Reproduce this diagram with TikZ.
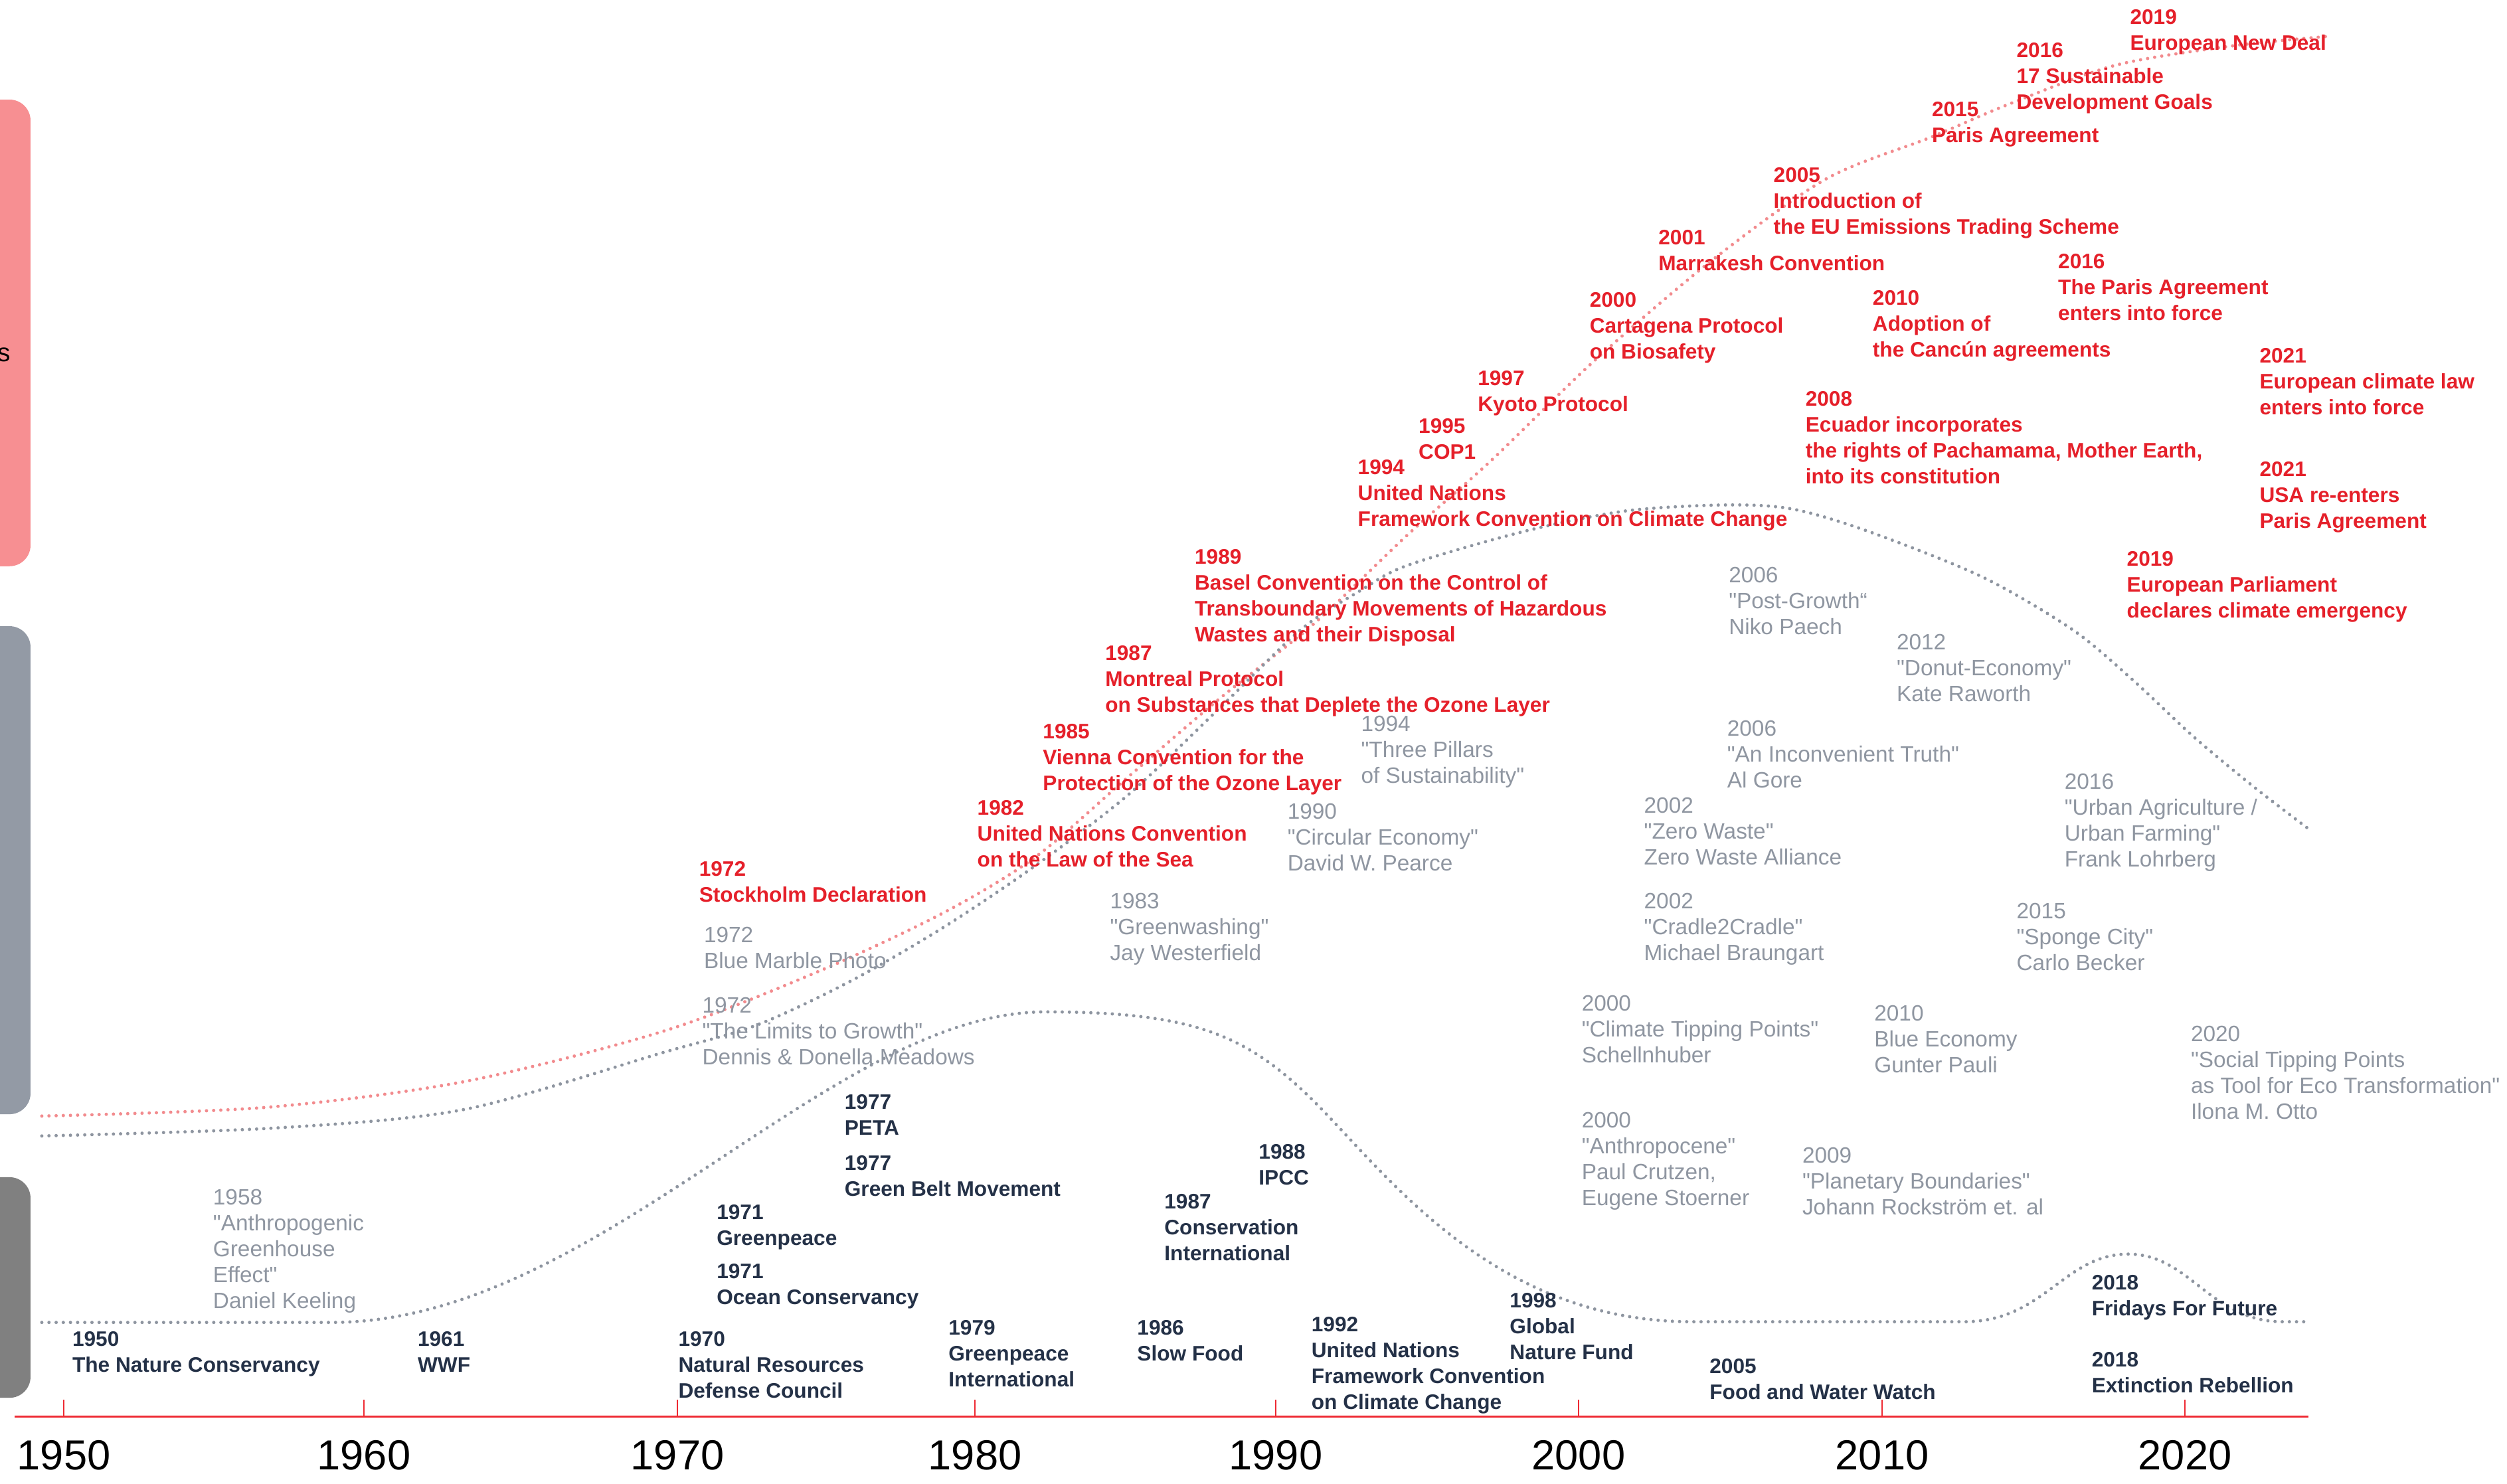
\documentclass[tikz,border=0pt]{standalone}
\usepackage{fontspec}
\setmainfont{Liberation Sans}[Ligatures=TeXOff]

\definecolor{polred}{HTML}{E5202A}
\definecolor{reddot}{HTML}{F28B8E}
\definecolor{ideagray}{HTML}{8F96A1}
\definecolor{graydot}{HTML}{8E95A0}
\definecolor{orgnavy}{HTML}{243147}
\definecolor{boxpink}{HTML}{F78F92}
\definecolor{boxslate}{HTML}{939AA5}
\definecolor{boxgray}{HTML}{808080}
\definecolor{axisred}{HTML}{EE2A33}

\tikzset{
  lbl/.style={anchor=north west, inner sep=0pt, align=left},
  policy/.style={lbl, text=polred, font=\fontsize{9}{11.1}\selectfont\bfseries},
  idea/.style={lbl, text=ideagray, font=\fontsize{9.5}{11.1}\selectfont},
  org/.style={lbl, text=orgnavy, font=\fontsize{9}{11.1}\selectfont\bfseries},
  yearlab/.style={anchor=base, inner sep=0pt, font=\fontsize{18}{20}\selectfont},
  dotline/.style={line width=1.42pt, line cap=round, dash pattern=on 0pt off 3.07pt},
}

\begin{document}
\begin{tikzpicture}[x=0.024075cm, y=-0.024075cm]
  \useasboundingbox (0,0) rectangle (1568,928);
  % side bands
  \fill[boxpink, rounded corners=9pt] (-40,62.3) rectangle (19.1,354.2);
  \fill[boxslate, rounded corners=9pt] (-40,391.7) rectangle (19.1,697);
  \fill[boxgray, rounded corners=9pt] (-40,736.4) rectangle (19.1,874.4);
  \node[anchor=base east, inner sep=0pt, font=\fontsize{11}{13}\selectfont] (band) at (6.85,226) {s};

  % trend curves
  \begin{scope}[x=0.01cm, y=-0.01cm]
    \draw[dotline, reddot] plot[smooth] coordinates {(63,1682) (400,1669) (700,1630) (1000,1554)
      (1231,1465) (1421,1376) (1561,1291) (1701,1170) (1840,1051) (1981,939) (2121,806)
      (2247,694) (2401,545) (2575,396) (2751,270) (2909,207) (3032,155) (3189,98) (3365,69) (3505,55)};
    \draw[dotline, graydot] plot[smooth] coordinates {(63,1712) (415,1700) (700,1672) (1000,1586)
      (1140,1545) (1281,1479) (1421,1398) (1561,1304) (1701,1197) (1842,1063) (1960,949)
      (2050,890) (2121,852) (2296,801) (2450,770) (2600,761) (2700,767) (2813,800) (2986,869)
      (3123,949) (3214,1025) (3305,1110) (3395,1185) (3477,1248)};
    \draw[dotline, graydot] (63,1993) -- (500,1993)
      .. controls (900,1993) and (1250,1525) .. (1575,1525)
      .. controls (1800,1525) and (1880,1560) .. (1982,1662)
      .. controls (2090,1770) and (2250,1992) .. (2550,1992) -- (2960,1992)
      .. controls (3080,1992) and (3110,1890) .. (3207,1890)
      .. controls (3300,1890) and (3330,1992) .. (3440,1992) -- (3477,1992);
  \end{scope}

  % time axis
  \draw[axisred, line width=0.7pt] (9.1,886.2) -- (1443.8,886.2);
  \foreach \yr/\xx in {1950/39.9, 1960/227.6, 1970/423.7, 1980/609.8, 1990/797.9,
                       2000/987.3, 2010/1177.2, 2020/1366.6} {
    \draw[axisred, line width=0.5pt] (\xx,875.6) -- (\xx,886.2);
    \node[yearlab] (y\yr) at (\xx,919.6) {\yr};
  }

  % organisations
  \node[org] (o1950) at (45,832.5) {1950\\The Nature Conservancy};
  \node[org] (o1961) at (261,832.5) {1961\\WWF};
  \node[org] (o1970) at (424,832.5) {1970\\Natural Resources\\Defense Council};
  \node[org] (o1979) at (593,825.5) {1979\\Greenpeace\\International};
  \node[org] (o1986) at (711,825.5) {1986\\Slow Food};
  \node[org] (o1992) at (820,823.5) {1992\\United Nations\\Framework Convention\\on Climate Change};
  \node[org] (o1998) at (944,808.5) {1998\\Global\\Nature Fund};
  \node[org] (o2005) at (1069,849.5) {2005\\Food and Water Watch};
  \node[org] (o2018x) at (1308,845.5) {2018\\Extinction Rebellion};
  \node[org] (o2018f) at (1308,797.5) {2018\\Fridays For Future};
  \node[org] (o1971g) at (448,753.5) {1971\\Greenpeace};
  \node[org] (o1971o) at (448,790.5) {1971\\Ocean Conservancy};
  \node[org] (o1977p) at (528,684.5) {1977\\PETA};
  \node[org] (o1977g) at (528,722.5) {1977\\Green Belt Movement};
  \node[org] (o1987) at (728,746.5) {1987\\Conservation\\International};
  \node[org] (o1988) at (787,715.5) {1988\\IPCC};

  % ideas
  \node[idea] (i1958) at (133,743.5) {1958\\"Anthropogenic\\Greenhouse\\Effect"\\Daniel Keeling};
  \node[idea] (i1972b) at (440,579.5) {1972\\Blue Marble Photo};
  \node[idea] (i1972l) at (439,623.5) {1972\\"The Limits to Growth"\\Dennis \& Donella Meadows};
  \node[idea] (i1983) at (694,558.5) {1983\\"Greenwashing"\\Jay Westerfield};
  \node[idea] (i1990) at (805,502.5) {1990\\"Circular Economy"\\David W. Pearce};
  \node[idea] (i1994) at (851,447.5) {1994\\"Three Pillars\\of Sustainability"};
  \node[idea] (i2000t) at (989,622.5) {2000\\"Climate Tipping Points"\\Schellnhuber};
  \node[idea] (i2000a) at (989,695.5) {2000\\"Anthropocene"\\Paul Crutzen,\\Eugene Stoerner};
  \node[idea] (i2002z) at (1028,498.5) {2002\\"Zero Waste"\\Zero Waste Alliance};
  \node[idea] (i2002c) at (1028,558.5) {2002\\"Cradle2Cradle"\\Michael Braungart};
  \node[idea] (i2006p) at (1081,354.5) {2006\\"Post-Growth“\\Niko Paech};
  \node[idea] (i2006a) at (1080,450.5) {2006\\"An Inconvenient Truth"\\Al Gore};
  \node[idea] (i2009) at (1127,717.5) {2009\\"Planetary Boundaries"\\Johann Rockström et. al};
  \node[idea] (i2010) at (1172,628.5) {2010\\Blue Economy\\Gunter Pauli};
  \node[idea] (i2012) at (1186,396.5) {2012\\"Donut-Economy"\\Kate Raworth};
  \node[idea] (i2015) at (1261,564.5) {2015\\"Sponge City"\\Carlo Becker};
  \node[idea] (i2016) at (1291,483.5) {2016\\"Urban Agriculture /\\Urban Farming"\\Frank Lohrberg};
  \node[idea] (i2020) at (1370,641.5) {2020\\"Social Tipping Points\\as Tool for Eco Transformation"\\Ilona M. Otto};

  % policies
  \node[policy] (p1972) at (437,538.5) {1972\\Stockholm Declaration};
  \node[policy] (p1982) at (611,500.5) {1982\\United Nations Convention\\on the Law of the Sea};
  \node[policy] (p1985) at (652,452.5) {1985\\Vienna Convention for the\\Protection of the Ozone Layer};
  \node[policy] (p1987) at (691,403.5) {1987\\Montreal Protocol\\on Substances that Deplete the Ozone Layer};
  \node[policy] (p1989) at (747,343.5) {1989\\Basel Convention on the Control of\\Transboundary Movements of Hazardous\\Wastes and their Disposal};
  \node[policy] (p1994) at (849,287.5) {1994\\United Nations\\Framework Convention on Climate Change};
  \node[policy] (p1995) at (887,261.5) {1995\\COP1};
  \node[policy] (p1997) at (924,231.5) {1997\\Kyoto Protocol};
  \node[policy] (p2000) at (994,182.5) {2000\\Cartagena Protocol\\on Biosafety};
  \node[policy] (p2001) at (1037,143.5) {2001\\Marrakesh Convention};
  \node[policy] (p2005) at (1109,104.5) {2005\\Introduction of\\the EU Emissions Trading Scheme};
  \node[policy] (p2008) at (1129,244.5) {2008\\Ecuador incorporates\\the rights of Pachamama, Mother Earth,\\into its constitution};
  \node[policy] (p2010) at (1171,181.5) {2010\\Adoption of\\the Cancún agreements};
  \node[policy] (p2015) at (1208,63.5) {2015\\Paris Agreement};
  \node[policy] (p2016s) at (1261,26.5) {2016\\17 Sustainable\\Development Goals};
  \node[policy] (p2016p) at (1287,158.5) {2016\\The Paris Agreement\\enters into force};
  \node[policy] (p2019n) at (1332,5.5) {2019\\European New Deal};
  \node[policy] (p2019e) at (1330,344.5) {2019\\European Parliament\\declares climate emergency};
  \node[policy] (p2021l) at (1413,217.5) {2021\\European climate law\\enters into force};
  \node[policy] (p2021u) at (1413,288.5) {2021\\USA re-enters\\Paris Agreement};
\end{tikzpicture}
\end{document}
